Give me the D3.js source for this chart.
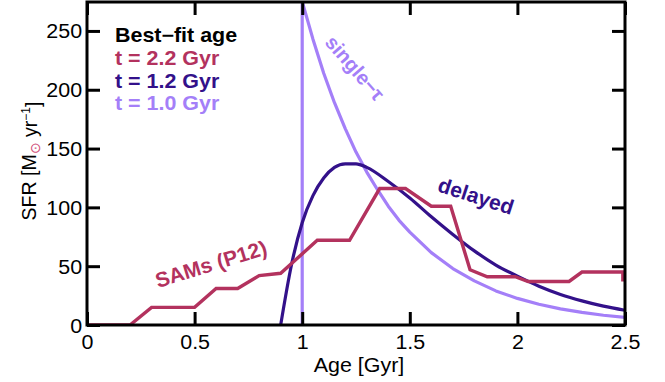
<!DOCTYPE html>
<html>
<head>
<meta charset="utf-8">
<script src="https://cdn.jsdelivr.net/npm/d3@7"></script>
<style>
  html, body { margin: 0; padding: 0; background: #fff; }
  svg { display: block; font-family: "Liberation Sans", Arial, Helvetica, sans-serif; }
</style>
</head>
<body>
<svg id="chart" width="665" height="382"></svg>
<script>
// Axis ticks
const ageTicks = [0, 0.5, 1, 1.5, 2, 2.5];
const sfrTicks = [0, 50, 100, 150, 200, 250];

// Semi-analytic model star-formation history (stepwise)
const samAge = [0, 0.2, 0.3, 0.5, 0.6, 0.7, 0.8, 0.9, 1.07, 1.22, 1.36, 1.48, 1.6, 1.69, 1.78, 1.86, 1.99, 2.05, 2.24, 2.3, 2.49, 2.49];
const samSfr = [0, 0, 15, 15, 31, 31, 42, 44, 72, 72, 116, 116, 101, 101, 47, 41, 41, 37, 37, 45, 45, 37];

// Delayed model
const delayedAge = [0.9, 0.95, 1.0, 1.05, 1.1, 1.15, 1.2, 1.25, 1.3, 1.4, 1.5, 1.6, 1.7, 1.8, 1.9, 2.0, 2.1, 2.2, 2.3, 2.4, 2.5];
const delayedSfr = [0, 51, 87, 110, 125, 134, 137, 137, 134, 122, 108, 92, 77, 63, 51, 41.5, 33, 26, 20.5, 16, 12.5];

// Single-tau model (onset at 1 Gyr)
const singleAge = [1.0, 1.0, 1.05, 1.1, 1.15, 1.2, 1.25, 1.3, 1.35, 1.4, 1.45, 1.5, 1.6, 1.7, 1.8, 1.9, 2.0, 2.1, 2.2, 2.3, 2.4, 2.5];
const singleSfr = [0, 275, 243, 214, 189, 167, 147, 130, 115, 101, 89, 79, 61.5, 48, 37.5, 29, 22.6, 17.6, 13.7, 10.7, 8.3, 6.5];

// Legend lines
const legendLabels = ["Best\u2212fit age", "t = 2.2 Gyr", "t = 1.2 Gyr", "t = 1.0 Gyr"];

const colRed = "#b3325e";
const colDark = "#33118a";
const colLight = "#a47ff8";

const svg = d3.select("#chart");
const plot = { left: 87, right: 625, top: 2, bottom: 325 };

const x = d3.scaleLinear().domain([0, 2.5]).range([plot.left, plot.right]);
const y = d3.scaleLinear().domain([0, 274.6]).range([plot.bottom, plot.top]);

svg.append("defs").append("clipPath").attr("id", "clip")
  .append("rect")
  .attr("x", plot.left).attr("y", plot.top)
  .attr("width", plot.right - plot.left).attr("height", plot.bottom - plot.top);

const zip = (a, b) => a.map((v, i) => [v, b[i]]);
const lineLinear = d3.line().x(d => x(d[0])).y(d => y(d[1]));
const lineSmooth = d3.line().x(d => x(d[0])).y(d => y(d[1])).curve(d3.curveMonotoneX);

const g = svg.append("g").attr("clip-path", "url(#clip)");

g.append("path").datum(zip(singleAge, singleSfr))
  .attr("d", lineLinear).attr("fill", "none")
  .attr("stroke", colLight).attr("stroke-width", 3.2).attr("stroke-linejoin", "round");

g.append("path").datum(zip(delayedAge, delayedSfr))
  .attr("d", lineSmooth).attr("fill", "none")
  .attr("stroke", colDark).attr("stroke-width", 3.2);

g.append("path").datum(zip(samAge, samSfr))
  .attr("d", lineLinear).attr("fill", "none")
  .attr("stroke", colRed).attr("stroke-width", 3.4).attr("stroke-linejoin", "miter");

// Axes with inward ticks on all four sides
const tickLen = 13;
const styleAxis = sel => {
  sel.select(".domain").remove();
  sel.selectAll(".tick line").attr("stroke", "#000").attr("stroke-width", 3);
  sel.selectAll(".tick text").attr("fill", "#000").style("font-size", "19.5px");
};

svg.append("g").attr("transform", `translate(0,${plot.bottom})`)
  .call(d3.axisBottom(x).tickValues(ageTicks).tickFormat(d3.format("")).tickSizeInner(-tickLen).tickSizeOuter(0).tickPadding(0))
  .call(styleAxis)
  .call(s => s.selectAll(".tick text").attr("y", 0).attr("dy", "1.22em").attr("transform", "scale(1.1,1)"));

svg.append("g").attr("transform", `translate(${plot.left},0)`)
  .call(d3.axisLeft(y).tickValues(sfrTicks).tickSizeInner(-tickLen).tickSizeOuter(0).tickPadding(0))
  .call(styleAxis)
  .call(s => s.selectAll(".tick text").attr("x", -4.5).attr("dy", "0.36em").attr("transform", "scale(1.1,1)"));

svg.append("g").attr("transform", `translate(0,${plot.top})`)
  .call(d3.axisTop(x).tickValues(ageTicks).tickFormat("").tickSizeInner(-tickLen).tickSizeOuter(0))
  .call(styleAxis);

svg.append("g").attr("transform", `translate(${plot.right},0)`)
  .call(d3.axisRight(y).tickValues(sfrTicks).tickFormat("").tickSizeInner(-tickLen).tickSizeOuter(0))
  .call(styleAxis);

// Frame
svg.append("rect")
  .attr("x", plot.left).attr("y", plot.top)
  .attr("width", plot.right - plot.left).attr("height", plot.bottom - plot.top)
  .attr("fill", "none").attr("stroke", "#000").attr("stroke-width", 3);

// Axis titles
svg.append("text")
  .attr("transform", "translate(359,372) scale(1.1,1)")
  .attr("text-anchor", "middle").style("font-size", "19.5px").attr("fill", "#000")
  .text("Age [Gyr]");

const yTitle = svg.append("text")
  .attr("transform", "translate(36,161) rotate(-90)")
  .attr("text-anchor", "middle").style("font-size", "19.5px").attr("fill", "#000");
yTitle.append("tspan").text("SFR [M");
yTitle.append("tspan").text("\u2299").attr("fill", "#d0507a").style("font-size", "14px").attr("dy", "0.3em");
yTitle.append("tspan").text(" yr").attr("dy", "-0.15em");
yTitle.append("tspan").text("\u22121").style("font-size", "12px").attr("dy", "-0.6em");
yTitle.append("tspan").text("]").attr("dy", "0.5em");

// Legend
const legendColors = ["#000", colRed, colDark, colLight];
const legendY = [42, 64.5, 87.5, 110];
legendLabels.forEach((t, i) => {
  svg.append("text")
    .attr("transform", `translate(115,${legendY[i]}) scale(1.1,1)`)
    .style("font-size", "19.5px").style("font-weight", "bold")
    .attr("fill", legendColors[i]).text(t);
});

// Curve annotations
svg.append("text")
  .attr("transform", "translate(355,68) rotate(49)")
  .attr("text-anchor", "middle").attr("dy", "0.35em")
  .style("font-size", "20px").style("font-weight", "bold").attr("fill", colLight)
  .text("single\u2212\u03c4");

svg.append("text")
  .attr("transform", "translate(476,196) rotate(18)")
  .attr("text-anchor", "middle").attr("dy", "0.35em")
  .style("font-size", "21px").style("font-weight", "bold").attr("fill", colDark)
  .text("delayed");

svg.append("text")
  .attr("transform", "translate(211,264) rotate(-17)")
  .attr("text-anchor", "middle").attr("dy", "0.35em")
  .style("font-size", "21px").style("font-weight", "bold").attr("fill", colRed)
  .text("SAMs (P12)");
</script>
</body>
</html>
